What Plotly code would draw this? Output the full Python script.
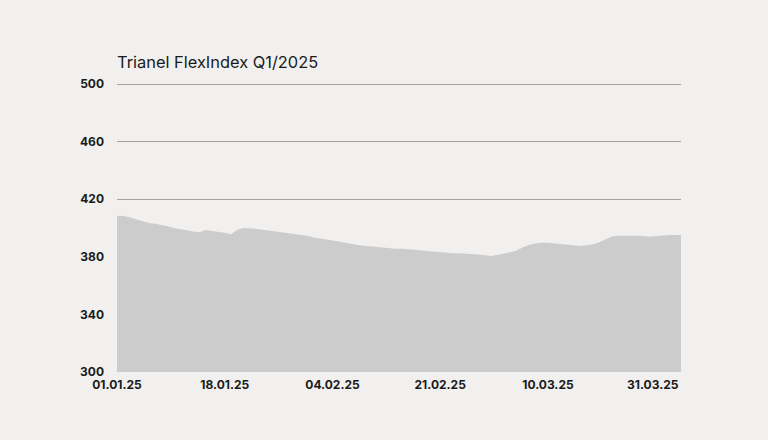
import pandas as pd
import plotly.graph_objects as go

# daily index values, 01.01.2025 - 31.03.2025
dates = pd.date_range("2025-01-01", "2025-03-31", freq="D")
index_values = [
    408.5, 408.4, 407.5, 406.0, 404.5, 403.5, 403.0, 402.3, 401.3, 400.0,
    399.0, 398.2, 397.5, 397.0, 398.6, 398.0, 397.4, 396.7, 395.6, 398.8,
    400.0, 399.9, 399.4, 398.8, 398.2, 397.5, 397.1, 396.7, 396.1, 395.3,
    394.6, 393.4, 392.8, 392.3, 391.3, 390.6, 389.8, 388.8, 388.2, 387.6,
    387.1, 386.8, 386.6, 386.1, 385.6, 385.6, 385.2, 384.7, 384.2, 383.6,
    383.1, 382.7, 382.4, 382.4, 382.4, 382.2, 381.9, 381.6, 381.0, 380.6,
    381.2, 382.2, 383.0, 384.2, 386.5, 388.2, 389.2, 389.8, 389.7, 389.4,
    389.1, 388.7, 388.0, 387.5, 387.8, 388.6, 390.0, 392.2, 394.0, 394.6,
    394.7, 394.7, 394.7, 394.4, 394.0, 394.2, 394.8, 395.2, 395.2, 395.2,
]
tick_dates = ["2025-01-01", "2025-01-18", "2025-02-04", "2025-02-21", "2025-03-10"]
tick_labels = ["01.01.25", "18.01.25", "04.02.25", "21.02.25", "10.03.25"]
last_label = "31.03.25"

bg = "#f1f0ee"
txt = "#1a1a1a"
tick_font = dict(family="Inter", size=12, color=txt, weight=700)

fig = go.Figure()
fig.add_trace(go.Scatter(
    x=dates, y=index_values, mode="lines", fill="tozeroy",
    fillcolor="#cccccc", line=dict(width=0, color="#cccccc"),
    hoverinfo="x+y", showlegend=False,
))

# last tick label sits right-aligned at the plot edge
fig.add_annotation(
    x=dates[-1], y=0, xref="x", yref="paper", text=last_label,
    showarrow=False, xanchor="right", yanchor="top", yshift=-3,
    font=tick_font,
)

# a bit of headroom above 500 so its gridline is drawn
fig.update_layout(
    width=768, height=440,
    paper_bgcolor=bg, plot_bgcolor=bg,
    margin=dict(l=117, r=87, t=80, b=68),
    font=dict(family="Inter", color=txt),
    title=dict(
        text="Trianel FlexIndex Q1/2025", x=117 / 768, xanchor="left",
        y=1 - 62 / 440, yanchor="middle",
        font=dict(family="Inter", size=16.4, color=txt),
    ),
    xaxis=dict(
        range=[dates[0], dates[-1]], tickvals=tick_dates, ticktext=tick_labels,
        showgrid=False, zeroline=False, showline=False, ticks="",
        ticklabelstandoff=4,
        tickfont=tick_font,
    ),
    yaxis=dict(
        range=[300, 502.8], dtick=40, tick0=300,
        showgrid=True, gridcolor="#a3a3a3", gridwidth=1,
        zeroline=False, showline=False, ticks="",
        ticklabelstandoff=12,
        tickfont=tick_font,
    ),
)

fig.write_html("out.html", config={"displayModeBar": False},
               post_script="document.body.style.margin='0';")
